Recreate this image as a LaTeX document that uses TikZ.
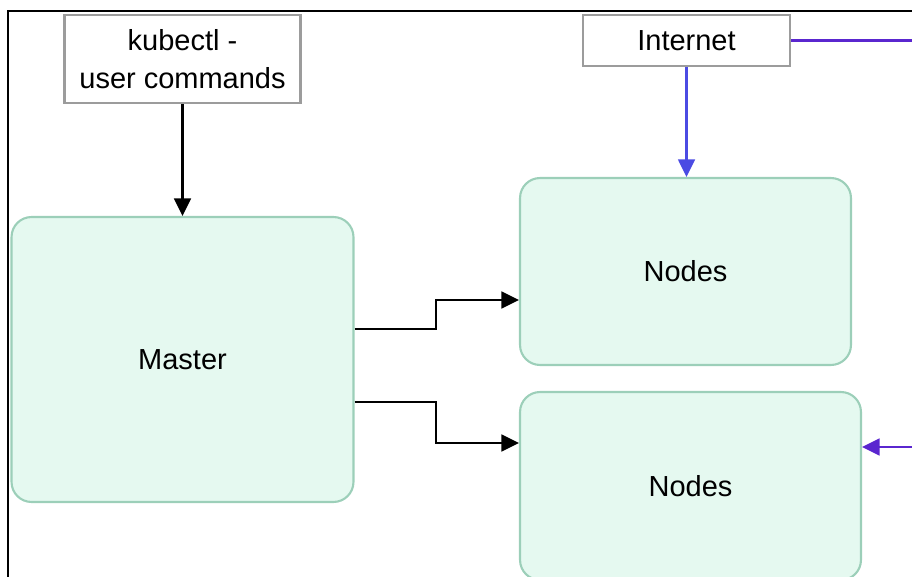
\documentclass[tikz,border=0pt]{standalone}
\usepackage{fontspec}
\setmainfont{Liberation Sans}
\usepackage{tikz}
\usetikzlibrary{calc,positioning,arrows.meta}

\definecolor{mint}{HTML}{E5F9F0}
\definecolor{mintline}{HTML}{9CCFB9}
\definecolor{boxline}{HTML}{9C9C9C}
\definecolor{inetblue}{HTML}{4B4BE3}
\definecolor{inetpurple}{HTML}{5A26CF}

\begin{document}
\begin{tikzpicture}[x=0.02cm, y=-0.02cm,
    every node/.style={font=\fontsize{16.5}{21.5}\selectfont, align=center},
    box/.style={draw=boxline, line width=1.2pt, fill=white, inner sep=0pt},
    grp/.style={draw=mintline, line width=1.2pt, fill=mint, rounded corners=0.4cm, inner sep=0pt},
    arr/.style={line width=1.4pt, -{Triangle[length=10pt,width=9.5pt]}}]
  \useasboundingbox (0,0) rectangle (912,577);
  \clip (0,0) rectangle (912,577);
  % frame
  \draw[line width=1.2pt] (8,580) -- (8,11) -- (920,11);

  \node[box, minimum width=4.72cm, minimum height=1.76cm] (kubectl) at (182.5,59) {kubectl -\\user commands};
  \node[box, minimum width=4.14cm, minimum height=1.02cm] (inet) at (686.5,40.5) {Internet};

  \node[grp, minimum width=6.84cm, minimum height=5.7cm] (master) at (182.5,359.5) {Master};
  \node[grp, minimum width=6.62cm, minimum height=3.74cm] (nodes1) at (685.5,271.5) {Nodes};
  \node[grp, minimum width=6.82cm, minimum height=3.76cm] (nodes2) at (690.5,486) {Nodes};

  \draw[arr] (kubectl) -- (master);
  \draw[arr] (master.east |- 0,329) -- (436,329) |- (nodes1.west |- 0,300);
  \draw[arr] (master.east |- 0,402) -- (436,402) |- (nodes2.west |- 0,443);
  \draw[arr, inetblue] (inet.south) -- (inet.south |- nodes1.north);
  \draw[arr, inetpurple] (inet.east) -- (935,40.5) |- (nodes2.east |- 0,447);
\end{tikzpicture}
\end{document}
